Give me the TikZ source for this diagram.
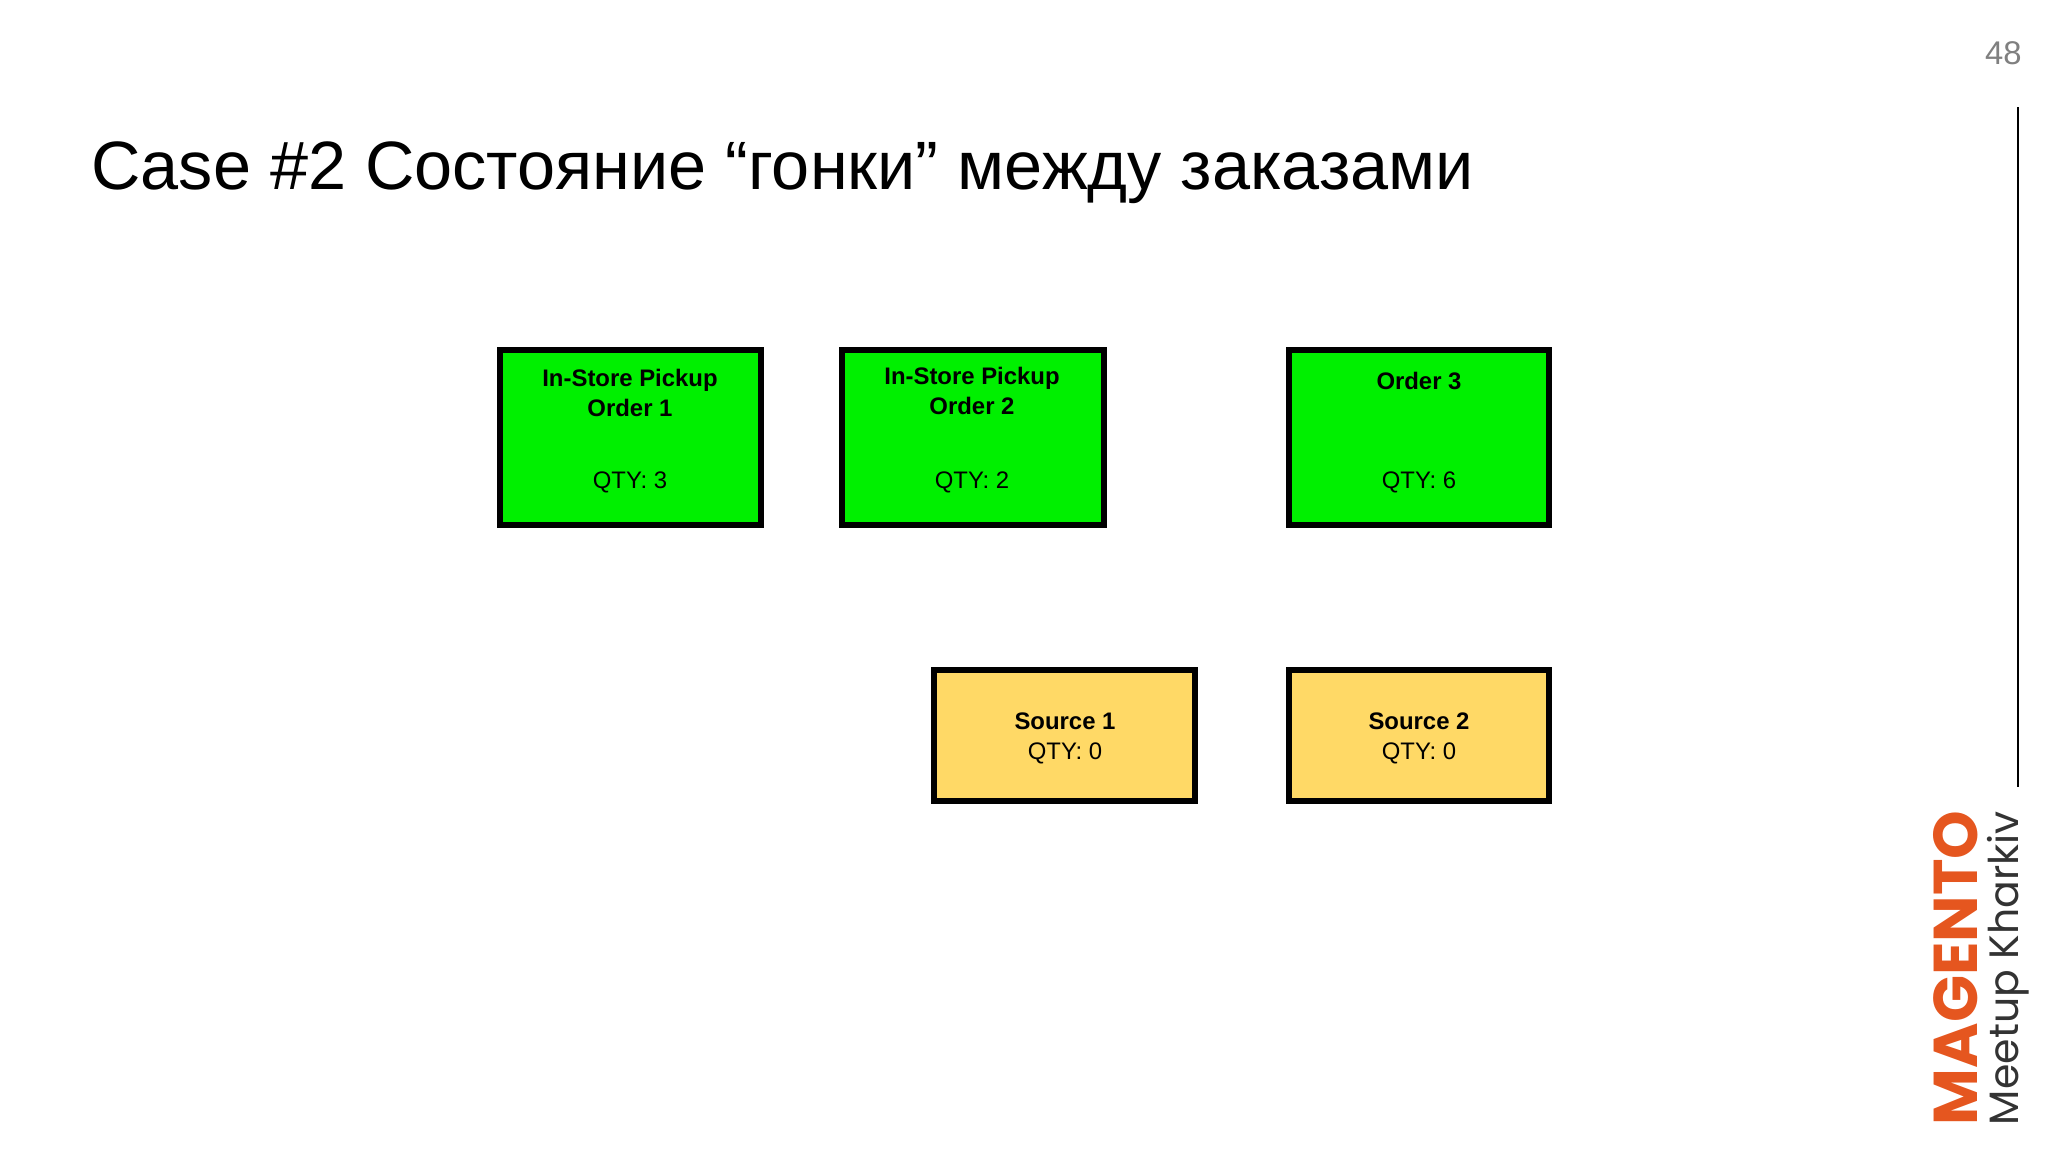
\documentclass[tikz,border=0pt]{standalone}
\usepackage{fontspec}
\setmainfont{Liberation Sans}
\newfontfamily\logofont{Poppins}
\definecolor{grn}{HTML}{00F000}
\definecolor{ylw}{HTML}{FFD966}
\definecolor{mag}{HTML}{E5561F}
\begin{document}
\begin{tikzpicture}[x=0.015cm,y=-0.015cm,
  gbox/.style={draw=black,line width=2.5pt,fill=grn},
  ybox/.style={draw=black,line width=2.5pt,fill=ylw},
  bt/.style={font=\fontsize{10.2}{12}\selectfont\bfseries,anchor=base},
  nt/.style={font=\fontsize{10.2}{12}\selectfont,anchor=base}]
\useasboundingbox (0,0) rectangle (2048,1152);
\node[anchor=base west,font=\fontsize{29.2}{34}\selectfont,inner sep=0] (title) at (91,189) {Case \#2 Состояние “гонки” между заказами};
\node[anchor=base east,font=\fontsize{14}{16}\selectfont,text=gray,inner sep=0] (pg) at (2022,64) {48};
\coordinate (lt) at (2018,107); \coordinate (lb) at (2018,787);
\draw[line width=1.2pt] (lt) -- (lb);
\draw[gbox] (500,350) rectangle (761,525) coordinate (b1);
\draw[gbox] (842,350) rectangle (1104,525) coordinate (b2);
\draw[gbox] (1289,350) rectangle (1549,525) coordinate (b3);
\draw[ybox] (934,670) rectangle (1195,801) coordinate (s1);
\draw[ybox] (1289,670) rectangle (1549,801) coordinate (s2);
\node[bt] (t1a) at (630,386) {In-Store Pickup};
\node[bt] (t1b) at (630,416) {Order 1};
\node[nt] (t1c) at (630,488) {QTY: 3};
\node[bt] (t2a) at (972,384) {In-Store Pickup};
\node[bt] (t2b) at (972,414) {Order 2};
\node[nt] (t2c) at (972,488) {QTY: 2};
\node[bt] (t3a) at (1419,389) {Order 3};
\node[nt] (t3c) at (1419,488) {QTY: 6};
\node[bt] (s1a) at (1065,729) {Source 1};
\node[nt] (s1b) at (1065,759) {QTY: 0};
\node[bt] (s2a) at (1419,729) {Source 2};
\node[nt] (s2b) at (1419,759) {QTY: 0};
\node[rotate=90,font=\logofont\fontsize{26.4}{28}\selectfont\bfseries,text=mag,inner sep=0] (logo) at (1956,968) {MAGENTO};
\node[rotate=90,font=\logofont\fontsize{17.5}{20}\selectfont,text=black!80,inner sep=0] (meet) at (2008,968) {Meetup Kharkiv};
\end{tikzpicture}
\end{document}
